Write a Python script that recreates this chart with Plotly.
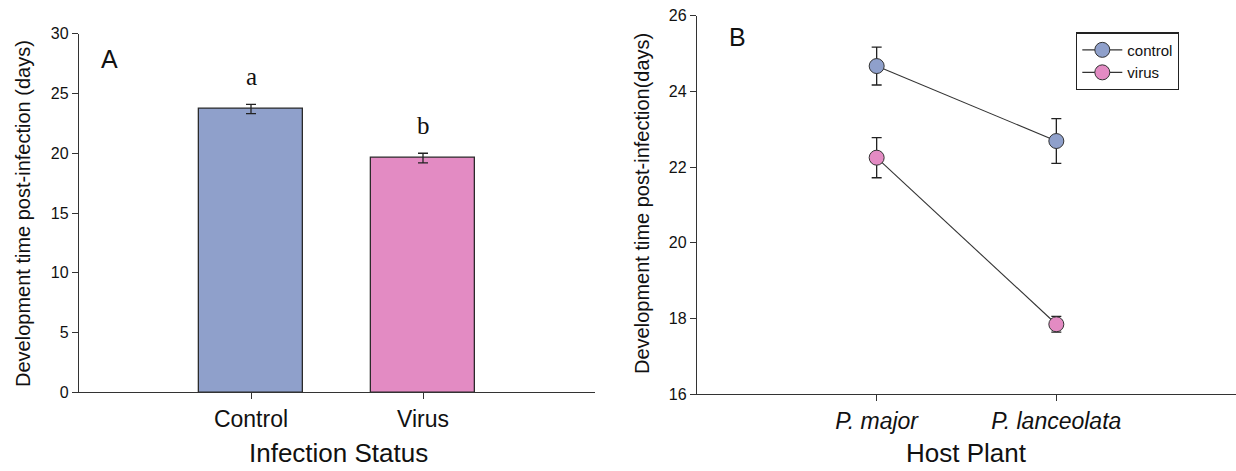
import plotly.graph_objects as go

# Panel A: development time by infection status
status = ["Control", "Virus"]
status_mean = [23.7, 19.6]
status_se = [0.38, 0.4]
status_letters = ["a", "b"]

# Panel B: development time by host plant
plants = ["P. major", "P. lanceolata"]
control_mean = [24.67, 22.69]
control_se = [0.5, 0.59]
virus_mean = [22.25, 17.85]
virus_se = [0.53, 0.21]

BLUE = "#8fa0cb"
PINK = "#e38bc3"
EDGE = "#2b2b2b"
SANS = "Liberation Sans, Arial, sans-serif"
SERIF = "Liberation Serif, Times New Roman, serif"

W, H = 1236, 471

fig = go.Figure()

fig.add_trace(go.Bar(
    x=status, y=status_mean, width=0.6,
    marker=dict(color=[BLUE, PINK], line=dict(color=EDGE, width=1.3)),
    error_y=dict(type="data", array=status_se, color="#222", thickness=1.3, width=5),
    showlegend=False, xaxis="x", yaxis="y",
))

# significance letters above each bar's error cap
for cat, m, se, letter in zip(status, status_mean, status_se, status_letters):
    fig.add_annotation(x=cat, y=m + se, xref="x", yref="y", text=letter,
                       showarrow=False, yanchor="bottom", yshift=12,
                       font=dict(family=SERIF, size=25, color="#111"))

fig.add_trace(go.Scatter(
    x=plants, y=control_mean, mode="lines+markers", name="control",
    line=dict(color="#333", width=1.1),
    marker=dict(size=15, color=BLUE, line=dict(color="#333", width=1)),
    error_y=dict(type="data", array=control_se, color="#222", thickness=1.3, width=5),
    xaxis="x2", yaxis="y2",
))
fig.add_trace(go.Scatter(
    x=plants, y=virus_mean, mode="lines+markers", name="virus",
    line=dict(color="#333", width=1.1),
    marker=dict(size=15, color=PINK, line=dict(color="#333", width=1)),
    error_y=dict(type="data", array=virus_se, color="#222", thickness=1.3, width=5),
    xaxis="x2", yaxis="y2",
))

axis_common = dict(
    showline=True, linecolor="#333", linewidth=1.3, mirror=False,
    showgrid=False, zeroline=False, ticks="outside", ticklen=6,
    tickcolor="#333", tickwidth=1.3, automargin=False,
)

fig.update_layout(
    width=W, height=H,
    margin=dict(l=0, r=0, t=0, b=0),
    paper_bgcolor="white", plot_bgcolor="white",
    font=dict(family=SANS, color="#111"),
    bargap=0,
    xaxis=dict(domain=[79 / W, 595 / W], range=[-1, 2], type="category",
               tickfont=dict(size=23), anchor="y", **axis_common),
    yaxis=dict(domain=[1 - 392.3 / H, 1 - 33.7 / H], range=[0, 30], dtick=5,
               tickfont=dict(size=16), anchor="x", **axis_common),
    xaxis2=dict(domain=[697 / W, 1.0], range=[-1, 2], type="category",
                tickvals=plants, ticktext=["<i>P. major</i>", "<i>P. lanceolata</i>"],
                tickfont=dict(size=23), anchor="y2", **axis_common),
    yaxis2=dict(domain=[1 - 394.3 / H, 1 - 15.7 / H], range=[16, 26], dtick=2,
                tickfont=dict(size=16), anchor="x2", **axis_common),
    legend=dict(x=1076 / W, y=1 - 32.3 / H, xanchor="left", yanchor="top",
                bgcolor="white", bordercolor="#222", borderwidth=1.3,
                font=dict(size=15, family=SANS), itemwidth=40,
                tracegroupgap=0),
)

annotations = [
    dict(text="A", x=99 / W, y=1 - 59 / H, font=dict(size=25)),
    dict(text="B", x=727 / W, y=1 - 37 / H, font=dict(size=25)),
    dict(text="Infection Status", x=338 / W, y=0.002, font=dict(size=26),
         xanchor="center", yanchor="bottom"),
    dict(text="Host Plant", x=967 / W, y=0.002, font=dict(size=26),
         xanchor="center", yanchor="bottom"),
    dict(text="Development time post-infection (days)", x=23 / W, y=1 - 214 / H,
         textangle=-90, font=dict(size=20), xanchor="center"),
    dict(text="Development time post-infection(days)", x=642 / W, y=1 - 204 / H,
         textangle=-90, font=dict(size=20), xanchor="center"),
]
for a in annotations:
    a.setdefault("xanchor", "left")
    a.setdefault("yanchor", "middle")
    fig.add_annotation(xref="paper", yref="paper", showarrow=False, **a)

fig.write_html("out.html")
